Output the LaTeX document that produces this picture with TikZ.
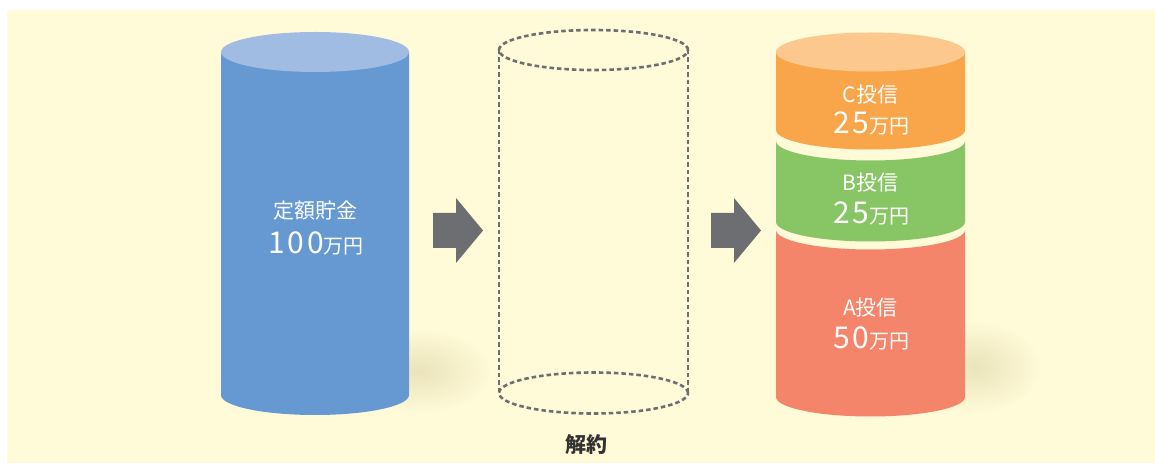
\documentclass[tikz,border=0pt]{standalone}
\usepackage{fontspec}
\newfontfamily\jp{Noto Sans CJK JP}
\newfontfamily\jpnum[LetterSpace=9]{Noto Sans CJK JP}
\definecolor{bgc}{HTML}{FFFAD7}
\definecolor{shadowc}{HTML}{EAE3BB}
\definecolor{bluebody}{HTML}{6699D1}
\definecolor{bluetop}{HTML}{A0BCE3}
\definecolor{dashc}{HTML}{6D6E71}
\definecolor{arrowc}{HTML}{6D6E71}
\definecolor{orbody}{HTML}{F9A54A}
\definecolor{ortop}{HTML}{FCC88E}
\definecolor{grbody}{HTML}{88C665}
\definecolor{rdbody}{HTML}{F4846A}
\definecolor{labc}{HTML}{333333}
\tikzset{
  cyl/.style={x radius=94.5,y radius=19.5},
  dashline/.style={draw=dashc,line width=2.6pt,dash pattern=on 4.5pt off 3pt},
  bigarrow/.style={fill=arrowc},
  lab/.style={text=white,font=\jp,inner sep=0pt,anchor=center},
  small/.style={font=\jp\fontsize{21}{21}\selectfont},
}
\newcommand{\amt}[1]{{\jpnum\fontsize{30}{30}\selectfont #1}{\jp\fontsize{20}{20}\selectfont 万円}}
\begin{document}
\begin{tikzpicture}[x=1pt,y=1pt]
\useasboundingbox (0,0) rectangle (1155,463);
\fill[white] (0,0) rectangle (1155,463);
\fill[bgc] (7,0) rectangle (1155,453);
% shadows
\shade[inner color=shadowc,outer color=bgc] (420,92) ellipse [x radius=72,y radius=42];
\shade[inner color=shadowc,outer color=bgc] (975,96) ellipse [x radius=66,y radius=46];
% blue cylinder
\fill[bluebody] (221,411) -- (221,68) arc[start angle=180,end angle=360,x radius=94,y radius=20] -- (409,411) -- cycle;
\fill[bluetop] (315,411) ellipse [x radius=94,y radius=20];
% dashed cylinder
\draw[dashline] (593.5,413) ellipse [x radius=94.5,y radius=20];
\draw[dashline] (593.5,70) ellipse [x radius=94.5,y radius=20.5];
\draw[dashline] (499,413) -- (499,70);
\draw[dashline] (688,413) -- (688,70);
% arrows
\fill[bigarrow] (433,250) -- (456,250) -- (456,265) -- (483,232.5) -- (456,200) -- (456,215) -- (433,215) -- cycle;
\fill[bigarrow] (711,250) -- (734,250) -- (734,265) -- (761,232.5) -- (734,200) -- (734,215) -- (711,215) -- cycle;
% stacked cylinder
\fill[orbody] (776,411) -- (776,333) arc[start angle=180,end angle=360,cyl] -- (965,411) -- cycle;
\fill[ortop] (870.5,411) ellipse [cyl];
\fill[grbody] (776,322) arc[start angle=180,end angle=360,cyl] -- (965,241) arc[start angle=0,end angle=-180,cyl] -- cycle;
\fill[rdbody] (776,233) arc[start angle=180,end angle=360,cyl] -- (965,66) arc[start angle=0,end angle=-180,cyl] -- cycle;
% labels
\node[lab,small] (t1) at (315,252) {定額貯金};
\node[lab] (v1) at (316,220) {\amt{100}};
\node[lab,small] (tc) at (870.5,368) {C投信};
\node[lab] (vc) at (871,340) {\amt{25}};
\node[lab,small] (tb) at (870.5,280) {B投信};
\node[lab] (vb) at (871,250) {\amt{25}};
\node[lab,small] (ta) at (870.5,155) {A投信};
\node[lab] (va) at (871,125) {\amt{50}};
\node[inner sep=0pt,text=labc,font=\jp\bfseries\fontsize{21}{21}\selectfont] (kai) at (586,18) {解約};
\end{tikzpicture}
\end{document}
